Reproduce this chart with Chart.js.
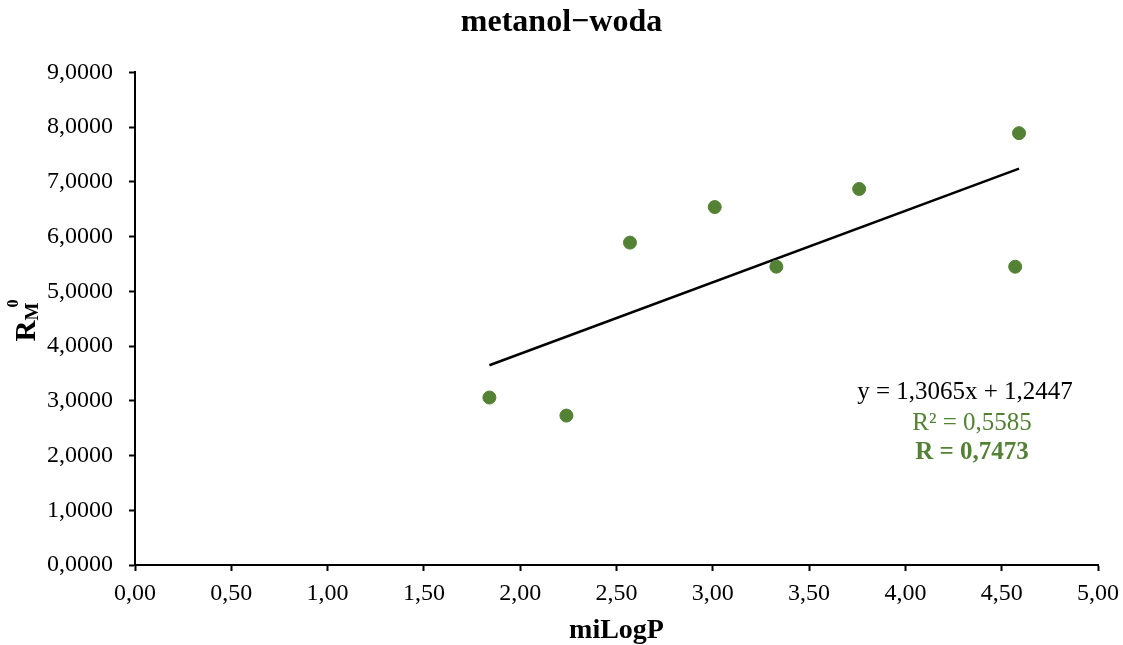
<!DOCTYPE html>
<html>
<head>
<meta charset="utf-8">
<script src="https://cdn.jsdelivr.net/npm/chart.js@4/dist/chart.umd.min.js"></script>
<style>
  html, body { margin: 0; padding: 0; background: #fff; }
  #wrap { width: 1123px; height: 645px; position: relative; }
</style>
</head>
<body>
<div id="wrap"><canvas id="chart"></canvas></div>
<script>
// dane
const miLogP = [1.84, 2.24, 2.57, 3.01, 3.33, 3.76, 4.57, 4.59];
const rm0 = [3.06, 2.73, 5.89, 6.54, 5.45, 6.87, 5.45, 7.89];
// linia trendu: y = a*x + b
const trendCoef = [1.3065, 1.2447];
const trendX = [1.84, 4.59];
const eqLines = ['y = 1,3065x + 1,2447', 'R² = 0,5585', 'R = 0,7473'];

const green = '#548235';
const serif = "'Liberation Serif', 'Times New Roman', serif";

const points = miLogP.map((x, i) => ({ x: x, y: rm0[i] }));
const trend = trendX.map(x => ({ x: x, y: trendCoef[0] * x + trendCoef[1] }));

const fmt = (v, d) => v.toFixed(d).replace('.', ',');

// tytul osi Y (R_M^0) i rownanie trendu
const extraText = {
  id: 'extraText',
  afterDraw(c) {
    const ctx = c.ctx;
    ctx.save();
    // os Y
    ctx.translate(25, 320);
    ctx.rotate(-Math.PI / 2);
    ctx.fillStyle = '#000';
    ctx.textBaseline = 'alphabetic';
    ctx.textAlign = 'left';
    ctx.font = 'bold 29px ' + serif;
    const wR = ctx.measureText('R').width;
    ctx.font = 'bold 19px ' + serif;
    const wM = ctx.measureText('M').width;
    const x0 = -(wR + wM + 4) / 2;
    ctx.font = 'bold 29px ' + serif;
    ctx.fillText('R', x0, 10);
    ctx.font = 'bold 19px ' + serif;
    ctx.fillText('M', x0 + wR, 13);
    ctx.font = 'bold 16px ' + serif;
    ctx.fillText('0', x0 + wR + wM - 5, -7);
    ctx.restore();

    // rownanie
    ctx.save();
    ctx.textAlign = 'center';
    ctx.textBaseline = 'middle';
    ctx.font = '25px ' + serif;
    ctx.fillStyle = '#000';
    ctx.fillText(eqLines[0], 965, 392);
    ctx.fillStyle = green;
    ctx.fillText(eqLines[1], 972, 423);
    ctx.font = 'bold 25px ' + serif;
    ctx.fillText(eqLines[2], 972, 453);
    ctx.restore();
  }
};

new Chart(document.getElementById('chart'), {
  type: 'scatter',
  data: {
    datasets: [
      {
        data: points,
        backgroundColor: green,
        borderColor: green,
        pointRadius: 6.5,
        pointHoverRadius: 6.5
      },
      {
        type: 'line',
        data: trend,
        borderColor: '#000',
        borderWidth: 2.5,
        pointRadius: 0,
        fill: false
      }
    ]
  },
  options: {
    responsive: true,
    maintainAspectRatio: false,
    animation: false,
    layout: { padding: 0 },
    plugins: {
      legend: { display: false },
      tooltip: { enabled: false },
      title: {
        display: true,
        text: 'metanol−woda',
        color: '#000',
        font: { family: serif, size: 32, weight: 'bold', lineHeight: 1.2 },
        padding: { top: 4, bottom: 30 }
      }
    },
    scales: {
      x: {
        type: 'linear',
        min: 0,
        max: 5,
        afterFit(s) { s.height = 80; s.paddingRight = 25; },
        ticks: {
          stepSize: 0.5,
          color: '#000',
          padding: 8,
          maxRotation: 0,
          font: { family: serif, size: 24 },
          callback: v => fmt(v, 2)
        },
        grid: { display: true, drawOnChartArea: false, drawTicks: true, tickLength: 6, tickColor: '#000', tickWidth: 2 },
        border: { display: true, color: '#000', width: 2 },
        title: {
          display: true,
          text: 'miLogP',
          color: '#000',
          font: { family: serif, size: 28, weight: 'bold', lineHeight: 1 },
          padding: { top: 0, bottom: 0 }
        }
      },
      y: {
        type: 'linear',
        min: 0,
        max: 9,
        afterFit(s) { s.width = 135; },
        ticks: {
          stepSize: 1,
          color: '#000',
          padding: 16,
          font: { family: serif, size: 24 },
          callback: v => fmt(v, 4)
        },
        grid: { display: true, drawOnChartArea: false, drawTicks: true, tickLength: 6, tickColor: '#000', tickWidth: 2 },
        border: { display: true, color: '#000', width: 2 }
      }
    }
  },
  plugins: [extraText]
});
</script>
</body>
</html>
